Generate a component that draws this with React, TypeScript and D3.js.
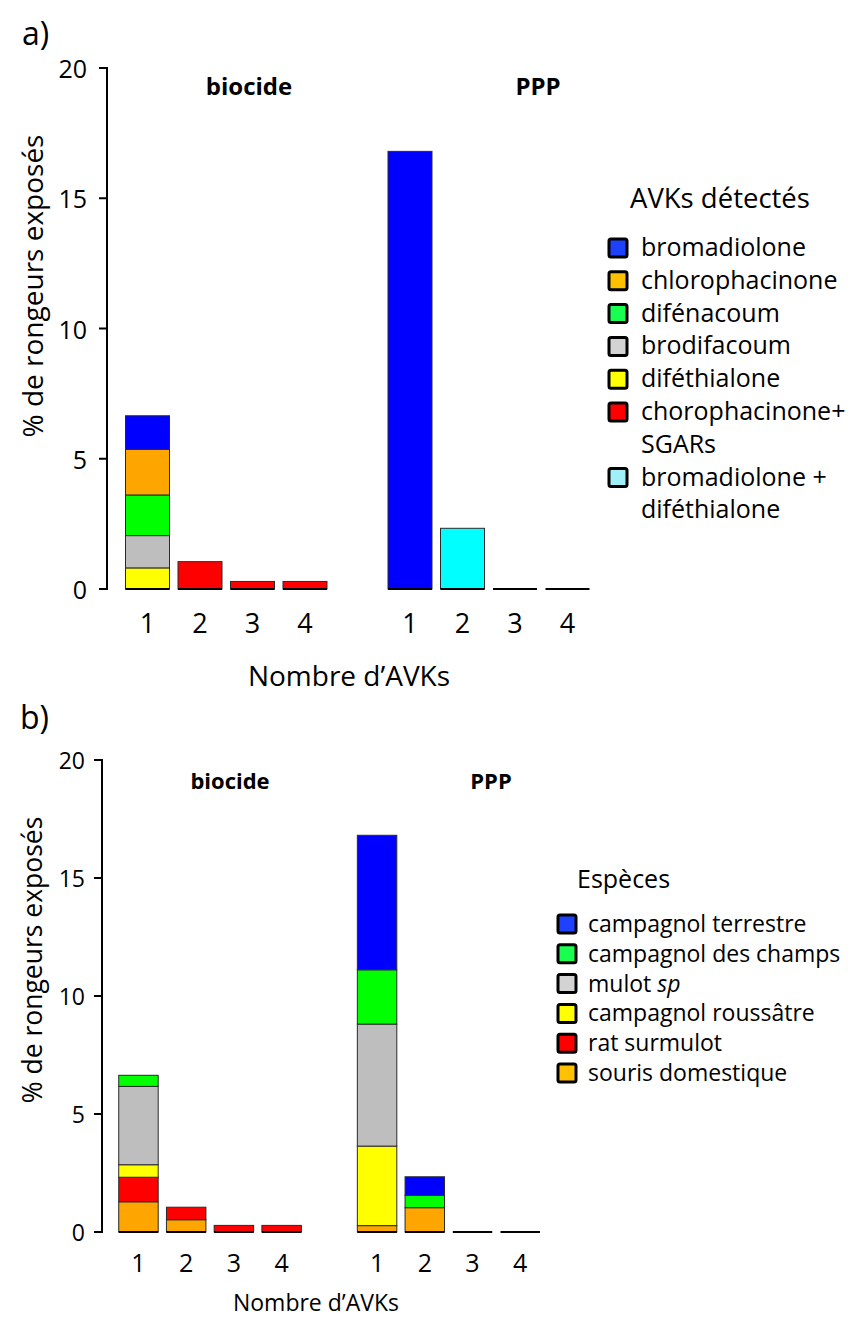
import * as d3 from "d3";

// groups and number of AVKs per rodent
const groups = ["biocide", "PPP"];
const nbAvk = ["1", "2", "3", "4"];
const yTicks = [0, 5, 10, 15, 20];

// panel a: AVKs détectés (values: biocide 1..4, then PPP 1..4)
const avkNames = [
  "diféthialone",
  "brodifacoum",
  "difénacoum",
  "chlorophacinone",
  "bromadiolone",
  "chorophacinone+\nSGARs",
  "bromadiolone +\ndiféthialone",
];
const difethialone = [0.81, 0, 0, 0, 0, 0, 0, 0];
const brodifacoum = [1.24, 0, 0, 0, 0, 0, 0, 0];
const difenacoum = [1.56, 0, 0, 0, 0, 0, 0, 0];
const chlorophacinone = [1.75, 0, 0, 0, 0, 0, 0, 0];
const bromadiolone = [1.29, 0, 0, 0, 16.8, 0, 0, 0];
const chloroSgars = [0, 1.05, 0.29, 0.29, 0, 0, 0, 0];
const bromaDifeth = [0, 0, 0, 0, 0, 2.33, 0, 0];
const avkBarColors = ["#ffff00", "#bebebe", "#00ff00", "#ffa500", "#0000ff", "#ff0000", "#00ffff"];
const avkSwatchColors = ["#ffff00", "#d3d3d3", "#19ff50", "#ffc000", "#1e40ff", "#ff0000", "#a0f0fa"];
const avkLegendOrder = [4, 3, 2, 1, 0, 5, 6];

// panel b: Espèces
const speciesNames = [
  "souris domestique",
  "rat surmulot",
  "campagnol roussâtre",
  "mulot sp",
  "campagnol des champs",
  "campagnol terrestre",
];
const souris = [1.28, 0.52, 0, 0, 0.27, 1.03, 0, 0];
const rat = [1.04, 0.53, 0.28, 0.28, 0, 0, 0, 0];
const roussatre = [0.53, 0, 0, 0, 3.37, 0, 0, 0];
const mulot = [3.32, 0, 0, 0, 5.17, 0, 0, 0];
const champs = [0.47, 0, 0, 0, 2.3, 0.52, 0, 0];
const terrestre = [0, 0, 0, 0, 5.7, 0.79, 0, 0];
const speciesBarColors = ["#ffa500", "#ff0000", "#ffff00", "#bebebe", "#00ff00", "#0000ff"];
const speciesSwatchColors = ["#ffc000", "#ff0000", "#ffff00", "#d3d3d3", "#19ff50", "#1e40ff"];
const speciesLegendOrder = [5, 4, 3, 2, 1, 0];

const FONT = "'Open Sans', sans-serif";

type Layout = {
  letter: string;
  letterX: number;
  letterY: number;
  yTop: number;
  yBottom: number;
  axisX: number;
  yTickFont: number;
  yTickGap: number;
  xTickFont: number;
  groupRange: [number, number];
  innerPad: number;
  xTickY: number;
  xTitleX: number;
  xTitleY: number;
  xTitleFont: number;
  yTitleX: number;
  yTitleY: number;
  yTitleFont: number;
  groupLabelX: number[];
  groupLabelY: number;
  groupFont: number;
  legendTitle: string;
  legendX: number;
  legendTitleX: number;
  legendTitleY: number;
  legendTitleFont: number;
  legendTextX: number;
  legendFirstY: number;
  legendStep: number;
  legendFont: number;
};

function Panel({
  layout,
  series,
  names,
  barColors,
  swatchColors,
  legendOrder,
}: {
  layout: Layout;
  series: number[][];
  names: string[];
  barColors: string[];
  swatchColors: string[];
  legendOrder: number[];
}) {
  const L = layout;
  const y = d3.scaleLinear().domain([0, 20]).range([L.yBottom, L.yTop]);
  const outer = d3.scaleBand().domain(groups).range(L.groupRange).paddingInner(0.2);
  const inner = d3
    .scaleBand()
    .domain(nbAvk)
    .range([0, outer.bandwidth()])
    .paddingInner(L.innerPad)
    .paddingOuter(L.innerPad / 2);

  const rows = groups.flatMap((g, gi) =>
    nbAvk.map((n, ni) => {
      const row: any = { group: g, n };
      names.forEach((k, ki) => (row[k] = series[ki][gi * nbAvk.length + ni]));
      return row;
    })
  );
  const stacked = d3.stack<any>().keys(names)(rows);
  const bx = (d: any) => (outer(d.group) ?? 0) + (inner(d.n) ?? 0);
  const bw = inner.bandwidth();

  let line = 0;
  const legendItems = legendOrder.map((ki) => {
    const lines = names[ki].split("\n");
    const item = { ki, lines, start: line };
    line += lines.length;
    return item;
  });

  return (
    <g>
      <text x={L.letterX} y={L.letterY} fontSize={32}>
        {L.letter}
      </text>

      {/* stacked bars */}
      {stacked.map((s, si) =>
        s.map((seg, i) =>
          seg[1] - seg[0] > 0 ? (
            <rect
              key={`${si}-${i}`}
              x={bx(seg.data)}
              y={y(seg[1])}
              width={bw}
              height={y(seg[0]) - y(seg[1])}
              fill={barColors[si]}
              stroke="#2a2a2a"
              strokeWidth={1}
            />
          ) : null
        )
      )}
      {rows.map((r, i) => (
        <line key={i} x1={bx(r)} x2={bx(r) + bw} y1={y(0)} y2={y(0)} stroke="#000" strokeWidth={2} />
      ))}

      {/* y axis */}
      <line x1={L.axisX} x2={L.axisX} y1={y(20) - 1} y2={y(0) + 1} stroke="#000" strokeWidth={2} />
      {yTicks.map((t) => (
        <g key={t}>
          <line x1={L.axisX - 8} x2={L.axisX} y1={y(t)} y2={y(t)} stroke="#000" strokeWidth={2} />
          <text
            x={L.axisX - L.yTickGap}
            y={y(t)}
            textAnchor="end"
            dominantBaseline="central"
            fontSize={L.yTickFont}
          >
            {t}
          </text>
        </g>
      ))}
      <text
        transform={`translate(${L.yTitleX},${L.yTitleY}) rotate(-90)`}
        textAnchor="middle"
        dominantBaseline="central"
        fontSize={L.yTitleFont}
      >
        % de rongeurs exposés
      </text>

      {/* x tick labels */}
      {rows.map((r, i) => (
        <text
          key={i}
          x={bx(r) + bw / 2}
          y={L.xTickY}
          textAnchor="middle"
          dominantBaseline="central"
          fontSize={L.xTickFont}
        >
          {r.n}
        </text>
      ))}
      <text x={L.xTitleX} y={L.xTitleY} textAnchor="middle" fontSize={L.xTitleFont}>
        Nombre d’AVKs
      </text>

      {groups.map((g, gi) => (
        <text
          key={g}
          x={L.groupLabelX[gi]}
          y={L.groupLabelY}
          textAnchor="middle"
          fontWeight="bold"
          fontSize={L.groupFont}
        >
          {g}
        </text>
      ))}

      {/* legend */}
      <text x={L.legendTitleX} y={L.legendTitleY} fontSize={L.legendTitleFont}>
        {L.legendTitle}
      </text>
      {legendItems.map((it) => {
        const base = L.legendFirstY + it.start * L.legendStep;
        return (
          <g key={it.ki}>
            <rect
              x={L.legendX}
              y={base - 17}
              width={18}
              height={18}
              rx={2}
              fill={swatchColors[it.ki]}
              stroke="#000"
              strokeWidth={3}
            />
            {it.lines.map((ln, li) => {
              const italic = ln.endsWith(" sp");
              return (
                <text key={li} x={L.legendTextX} y={base + li * L.legendStep} fontSize={L.legendFont}>
                  {italic ? (
                    <>
                      {ln.slice(0, -2)}
                      <tspan fontStyle="italic">sp</tspan>
                    </>
                  ) : (
                    ln
                  )}
                </text>
              );
            })}
          </g>
        );
      })}
    </g>
  );
}

const layoutA: Layout = {
  letter: "a)",
  letterX: 22,
  letterY: 45,
  yTop: 68,
  yBottom: 589,
  axisX: 107,
  yTickFont: 25,
  yTickGap: 20,
  xTickFont: 27,
  groupRange: [121.25, 593.75],
  innerPad: 0.162,
  xTickY: 622,
  xTitleX: 349,
  xTitleY: 686,
  xTitleFont: 28,
  yTitleX: 32,
  yTitleY: 286,
  yTitleFont: 28,
  groupLabelX: [249, 538],
  groupLabelY: 95,
  groupFont: 24,
  legendTitle: "AVKs détectés",
  legendX: 609,
  legendTitleX: 630,
  legendTitleY: 208,
  legendTitleFont: 27.5,
  legendTextX: 641,
  legendFirstY: 256,
  legendStep: 32.8,
  legendFont: 25,
};

const layoutB: Layout = {
  letter: "b)",
  letterX: 20,
  letterY: 729,
  yTop: 760,
  yBottom: 1232,
  axisX: 102,
  yTickFont: 23,
  yTickGap: 17,
  xTickFont: 25,
  groupRange: [114.6, 544.1],
  innerPad: 0.173,
  xTickY: 1262,
  xTitleX: 316,
  xTitleY: 1311,
  xTitleFont: 23,
  yTitleX: 32,
  yTitleY: 960,
  yTitleFont: 26.5,
  groupLabelX: [230, 491],
  groupLabelY: 789,
  groupFont: 22,
  legendTitle: "Espèces",
  legendX: 558,
  legendTitleX: 577,
  legendTitleY: 888,
  legendTitleFont: 25,
  legendTextX: 588,
  legendFirstY: 932,
  legendStep: 29.8,
  legendFont: 23,
};

export default function App() {
  return (
    <svg
      width={848}
      height={1319}
      style={{ position: "absolute", left: 0, top: 0, background: "#fff" }}
      fontFamily={FONT}
      fill="#000"
    >
      <Panel
        layout={layoutA}
        series={[difethialone, brodifacoum, difenacoum, chlorophacinone, bromadiolone, chloroSgars, bromaDifeth]}
        names={avkNames}
        barColors={avkBarColors}
        swatchColors={avkSwatchColors}
        legendOrder={avkLegendOrder}
      />
      <Panel
        layout={layoutB}
        series={[souris, rat, roussatre, mulot, champs, terrestre]}
        names={speciesNames}
        barColors={speciesBarColors}
        swatchColors={speciesSwatchColors}
        legendOrder={speciesLegendOrder}
      />
    </svg>
  );
}
